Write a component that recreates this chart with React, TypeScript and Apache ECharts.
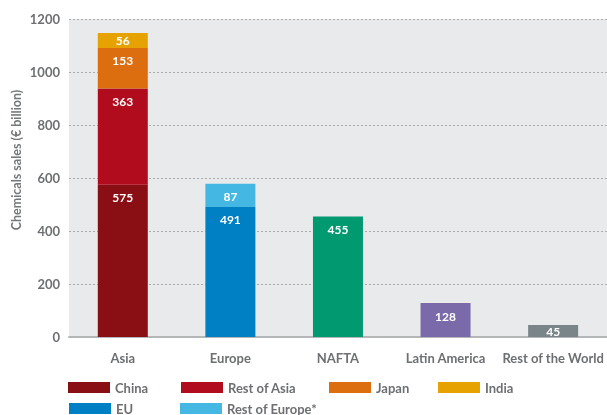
import React, { useEffect, useRef } from "react";
import * as echarts from "echarts";

const categories = ["Asia", "Europe", "NAFTA", "Latin America", "Rest of the World"];
const china = [575, null, null, null, null];
const restOfAsia = [363, null, null, null, null];
const japan = [153, null, null, null, null];
const india = [56, null, null, null, null];
const eu = [null, 491, null, null, null];
const restOfEurope = [null, 87, null, null, null];
const nafta = [null, null, 455, null, null];
const latinAmerica = [null, null, null, 128, null];
const restOfWorld = [null, null, null, null, 45];
const yTicks = [0, 200, 400, 600, 800, 1000, 1200];
const yAxisTitle = "Chemicals sales (€ billion)";

const FONT = "Lato";
const GRAY = "#6d6f72";

export default function App() {
  const ref = useRef<HTMLDivElement>(null);
  useEffect(() => {
    if (!ref.current) return;
    const chart = echarts.init(ref.current, null, { renderer: "svg" });
    const label = {
      show: true,
      position: "insideTop" as const,
      distance: 7,
      color: "#ffffff",
      fontFamily: FONT,
      fontWeight: "bold" as const,
      fontSize: 12,
    };
    const mk = (name: string, data: (number | null)[], color: string, lbl: any = label) => ({
      name,
      type: "bar",
      stack: "total",
      barWidth: 50,
      data: data.map((v) => (v === null ? "-" : v)),
      itemStyle: { color },
      label: lbl,
    });
    const legendItem = (name: string, left: number, top: number) => ({
      data: [name],
      left,
      top,
      padding: 0,
      icon: "rect",
      itemWidth: 42,
      itemHeight: 11,
      selectedMode: false,
      textStyle: { color: GRAY, fontFamily: FONT, fontWeight: "bold", fontSize: 13 },
    });
    chart.setOption({
      animation: false,
      textStyle: { fontFamily: FONT },
      grid: {
        left: 69,
        right: 0,
        top: 19,
        bottom: 78,
        show: true,
        backgroundColor: "#e9eaec",
        borderWidth: 0,
      },
      graphic: [
        {
          type: "text",
          x: 16,
          y: 160,
          rotation: Math.PI / 2,
          style: {
            text: yAxisTitle,
            fill: "#75777a",
            font: `bold 12.5px ${FONT}`,
            align: "center",
            verticalAlign: "middle",
          },
        },
      ],
      legend: [
        legendItem("China", 68, 381),
        legendItem("Rest of Asia", 181, 381),
        legendItem("Japan", 329, 381),
        legendItem("India", 438, 381),
        legendItem("EU", 69, 402),
        legendItem("Rest of Europe*", 180, 402),
      ],
      xAxis: {
        type: "category",
        data: categories,
        axisTick: { show: false },
        axisLine: { lineStyle: { color: "#b4b6b8", width: 2 } },
        axisLabel: { color: GRAY, fontFamily: FONT, fontWeight: "bold", fontSize: 13, margin: 14, interval: 0 },
      },
      yAxis: {
        type: "value",
        min: yTicks[0],
        max: yTicks[yTicks.length - 1],
        interval: 200,
        axisLine: { show: false },
        axisTick: { show: false },
        axisLabel: {
          color: GRAY,
          fontFamily: FONT,
          fontWeight: "bold",
          fontSize: 13,
          margin: 9,
          formatter: (v: number) => String(v),
        },
        splitLine: { lineStyle: { color: "#a9abae", type: [2, 2], width: 1 } },
      },
      series: [
        mk("China", china, "#8a0f15"),
        mk("Rest of Asia", restOfAsia, "#b10b1e"),
        mk("Japan", japan, "#dc6e10"),
        mk("India", india, "#e6a200", { ...label, position: "inside" }),
        mk("EU", eu, "#0080c4"),
        mk("Rest of Europe*", restOfEurope, "#44b8e3"),
        mk("NAFTA", nafta, "#009970"),
        mk("Latin America", latinAmerica, "#7a6aaa"),
        mk("Rest of the World", restOfWorld, "#7a858a", { ...label, position: "inside" }),
      ],
    });
    return () => chart.dispose();
  }, []);
  return (
    <div
      ref={ref}
      style={{ position: "fixed", left: 0, top: 0, width: 607, height: 415 }}
    />
  );
}
